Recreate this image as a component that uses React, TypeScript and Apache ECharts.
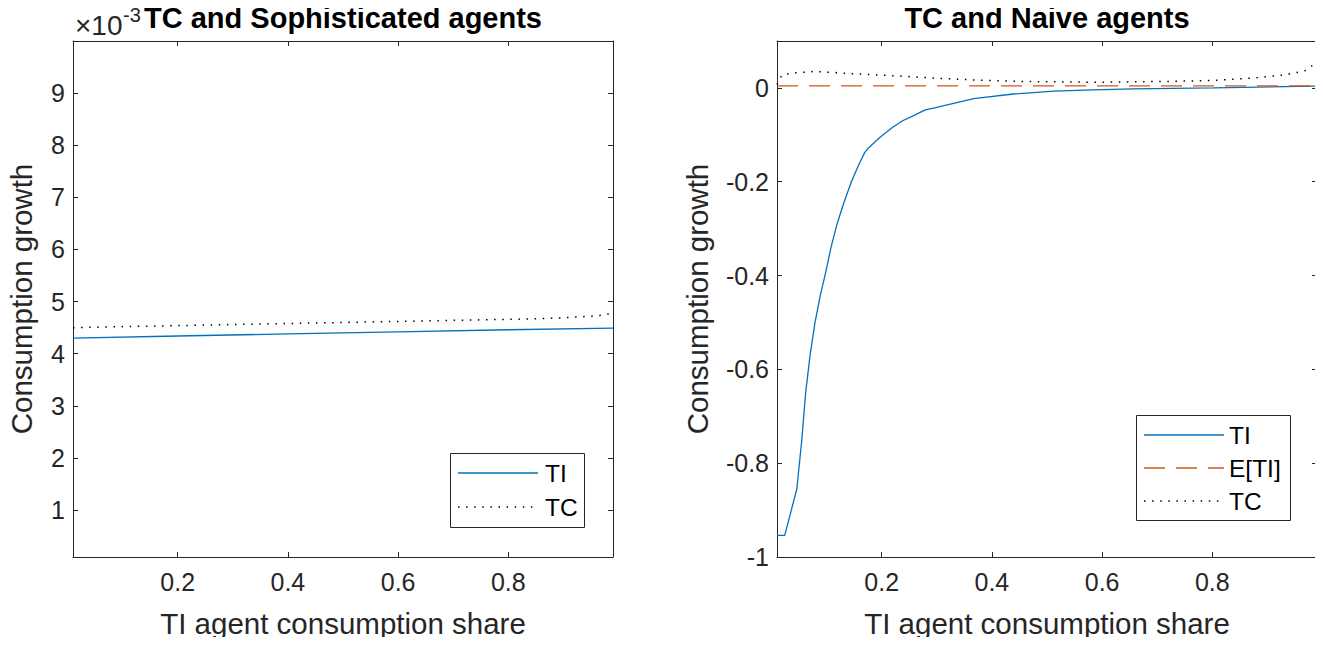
import React, { useEffect, useRef } from "react";
import * as echarts from "echarts";

// ---------- data ----------
const xTicks = [0.2, 0.4, 0.6, 0.8];
const leftYTicks = [0.001, 0.002, 0.003, 0.004, 0.005, 0.006, 0.007, 0.008, 0.009];
const rightYTicks = [-1, -0.8, -0.6, -0.4, -0.2, 0];

// Left panel: TC and Sophisticated agents
const soTIx = [0.01, 0.2, 0.4, 0.6, 0.8, 0.99];
const soTIy = [0.0043, 0.00434, 0.00438, 0.00442, 0.00446, 0.00449];
const soTCx = [0.01, 0.1, 0.2, 0.3, 0.4, 0.5, 0.6, 0.7, 0.8, 0.85, 0.9, 0.95, 0.97, 0.99];
const soTCy = [0.0045, 0.00452, 0.00454, 0.00456, 0.00458, 0.0046, 0.00462, 0.00464, 0.00466, 0.00467, 0.00469, 0.00472, 0.00474, 0.00478];

// Right panel: TC and Naive agents
const naTIx = [0.01, 0.024, 0.046, 0.055, 0.062, 0.07, 0.079, 0.089, 0.099, 0.108, 0.119, 0.131, 0.145, 0.158, 0.169, 0.176, 0.197, 0.22, 0.238, 0.256, 0.279, 0.294, 0.367, 0.439, 0.512, 0.584, 0.657, 0.802, 0.99];
const naTIy = [-0.954, -0.954, -0.855, -0.75, -0.65, -0.57, -0.5, -0.44, -0.39, -0.34, -0.29, -0.246, -0.2, -0.165, -0.138, -0.128, -0.105, -0.084, -0.07, -0.06, -0.047, -0.043, -0.023, -0.013, -0.007, -0.004, -0.002, 0.0, 0.004];
const naETIx = [0.01, 0.99];
const naETIy = [0.0043, 0.0045];
const naTCx = [0.01, 0.019, 0.04, 0.077, 0.113, 0.149, 0.222, 0.294, 0.367, 0.439, 0.512, 0.584, 0.657, 0.729, 0.802, 0.875, 0.933, 0.969, 0.99];
const naTCy = [0.007, 0.028, 0.032, 0.035, 0.033, 0.03, 0.026, 0.021, 0.017, 0.014, 0.013, 0.012, 0.013, 0.014, 0.016, 0.021, 0.028, 0.037, 0.055];

const zip = (xs: number[], ys: number[]) => xs.map((x, i) => [x, ys[i]]);

const FONT = "'Liberation Sans', Arial, Helvetica, sans-serif";
const AX = "#262626";
const BLUE = "#0072BD";
const ORANGE = "#D95319";
const DOT = [1.5, 6.6];
const DASH = [21, 11];

export default function App() {
  const ref = useRef<HTMLDivElement>(null);
  useEffect(() => {
    if (!ref.current) return;
    const chart = echarts.init(ref.current, undefined, { renderer: "svg" });

    const mkX = (grid: number, pos: "bottom" | "top", withLabels: boolean) => ({
      type: "value",
      gridIndex: grid,
      position: pos,
      min: 0.01,
      max: 0.99,
      axisLine: { show: true, onZero: false, lineStyle: { color: AX, width: 1 } },
      axisTick: { show: true, inside: true, length: 5, customValues: xTicks, lineStyle: { color: AX } },
      axisLabel: {
        show: withLabels,
        customValues: xTicks,
        fontSize: 25,
        fontFamily: FONT,
        color: AX,
        margin: 12,
        formatter: (v: number) => String(v),
      },
      splitLine: { show: false },
      name: withLabels ? "TI agent consumption share" : "",
      nameLocation: "middle",
      nameGap: 51,
      nameTextStyle: { fontSize: 29.5, fontFamily: FONT, color: AX },
    });

    const mkY = (
      grid: number,
      pos: "left" | "right",
      withLabels: boolean,
      min: number,
      max: number,
      ticks: number[],
      fmt: (v: number) => string,
      gap: number
    ) => ({
      type: "value",
      gridIndex: grid,
      position: pos,
      min,
      max,
      axisLine: { show: true, onZero: false, lineStyle: { color: AX, width: 1 } },
      axisTick: { show: true, inside: true, length: 5, customValues: ticks, lineStyle: { color: AX } },
      axisLabel: {
        show: withLabels,
        customValues: ticks,
        fontSize: 25,
        fontFamily: FONT,
        color: AX,
        margin: 8,
        formatter: fmt,
      },
      splitLine: { show: false },
      name: withLabels ? "Consumption growth" : "",
      nameLocation: "middle",
      nameGap: gap,
      nameTextStyle: { fontSize: 29.5, fontFamily: FONT, color: AX },
    });

    const leftFmt = (v: number) => String(Math.round(v * 1000));
    const rightFmt = (v: number) => {
      const r = Math.round(v * 10) / 10;
      return r === 0 ? "0" : String(r);
    };

    const legendLine = (x1: number, x2: number, y: number, color: string, dash: number[] | null, w: number) => ({
      type: "line",
      z: 100,
      shape: { x1, y1: y, x2, y2: y },
      style: { stroke: color, lineWidth: w, lineDash: dash || undefined },
    });
    const legendText = (x: number, y: number, text: string) => ({
      type: "text",
      z: 100,
      x,
      y,
      style: { text, fontSize: 24.5, fontFamily: FONT, fill: "#000", verticalAlign: "middle" },
    });

    chart.setOption({
      animation: false,
      backgroundColor: "#fff",
      grid: [
        { left: 73, top: 41, width: 540, height: 516, containLabel: false },
        { left: 777, top: 41, width: 540, height: 516, containLabel: false },
      ],
      xAxis: [mkX(0, "bottom", true), mkX(0, "top", false), mkX(1, "bottom", true), mkX(1, "top", false)],
      yAxis: [
        mkY(0, "left", true, 0.0001, 0.01, leftYTicks, leftFmt, 37),
        mkY(0, "right", false, 0.0001, 0.01, leftYTicks, leftFmt, 0),
        mkY(1, "left", true, -1, 0.1, rightYTicks, rightFmt, 65),
        mkY(1, "right", false, -1, 0.1, rightYTicks, rightFmt, 0),
      ],
      series: [
        {
          name: "TI",
          type: "line",
          xAxisIndex: 0,
          yAxisIndex: 0,
          data: zip(soTIx, soTIy),
          showSymbol: false,
          lineStyle: { color: BLUE, width: 1.3 },
        },
        {
          name: "TC",
          type: "line",
          xAxisIndex: 0,
          yAxisIndex: 0,
          data: zip(soTCx, soTCy),
          showSymbol: false,
          lineStyle: { color: "#000", width: 1.5, type: DOT },
        },
        {
          name: "TI",
          type: "line",
          xAxisIndex: 2,
          yAxisIndex: 2,
          data: zip(naTIx, naTIy),
          showSymbol: false,
          lineStyle: { color: BLUE, width: 1.3 },
        },
        {
          name: "E[TI]",
          type: "line",
          xAxisIndex: 2,
          yAxisIndex: 2,
          data: zip(naETIx, naETIy),
          showSymbol: false,
          lineStyle: { color: ORANGE, width: 1.3, type: DASH },
        },
        {
          name: "TC",
          type: "line",
          xAxisIndex: 2,
          yAxisIndex: 2,
          data: zip(naTCx, naTCy),
          showSymbol: false,
          lineStyle: { color: "#000", width: 1.5, type: DOT },
        },
      ],
      graphic: [
        {
          type: "text",
          z: 100,
          x: 343,
          y: 18,
          style: {
            text: "TC and Sophisticated agents",
            fontSize: 29,
            fontWeight: "bold",
            fontFamily: FONT,
            fill: "#000",
            align: "center",
            verticalAlign: "middle",
          },
        },
        {
          type: "text",
          z: 100,
          x: 1047,
          y: 18,
          style: {
            text: "TC and Naive agents",
            fontSize: 29,
            fontWeight: "bold",
            fontFamily: FONT,
            fill: "#000",
            align: "center",
            verticalAlign: "middle",
          },
        },
        {
          type: "text",
          z: 100,
          x: 75,
          y: 25,
          style: { text: "×10", fontSize: 28, fontFamily: FONT, fill: AX, align: "left", verticalAlign: "middle" },
        },
        {
          type: "text",
          z: 100,
          x: 123,
          y: 15,
          style: { text: "-3", fontSize: 20, fontFamily: FONT, fill: AX, align: "left", verticalAlign: "middle" },
        },
        // left legend
        {
          type: "rect",
          z: 99,
          shape: { x: 450.5, y: 453.5, width: 134, height: 74 },
          style: { fill: "#fff", stroke: AX, lineWidth: 1 },
        },
        legendLine(458, 538, 473, BLUE, null, 1.3),
        legendLine(458, 538, 507, "#000", DOT, 1.5),
        legendText(545, 473, "TI"),
        legendText(545, 507, "TC"),
        // right legend
        {
          type: "rect",
          z: 99,
          shape: { x: 1136.5, y: 415.5, width: 154, height: 105 },
          style: { fill: "#fff", stroke: AX, lineWidth: 1 },
        },
        legendLine(1144, 1224, 435, BLUE, null, 1.3),
        legendLine(1144, 1224, 468, ORANGE, DASH, 1.3),
        legendLine(1144, 1224, 501, "#000", DOT, 1.5),
        legendText(1229, 435, "TI"),
        legendText(1229, 468, "E[TI]"),
        legendText(1229, 501, "TC"),
      ],
    });
    return () => chart.dispose();
  }, []);
  return <div ref={ref} style={{ width: 1323, height: 645, margin: -8 }} />;
}
